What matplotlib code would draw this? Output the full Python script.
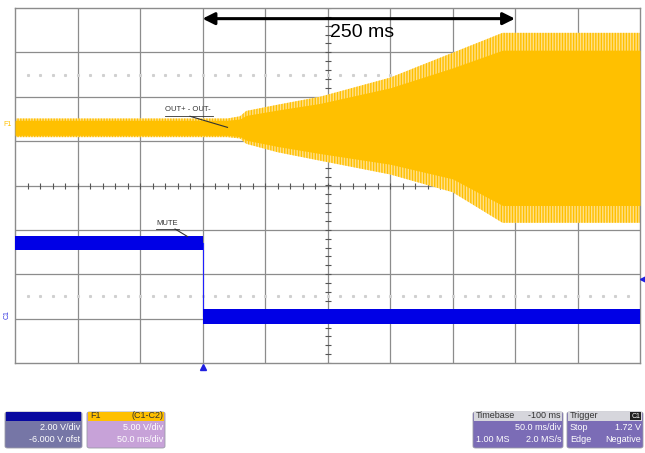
import numpy as np
import matplotlib
matplotlib.use("Agg")
from matplotlib import pyplot as plt
from matplotlib.patches import Rectangle, FancyBboxPatch

plt.rcParams["font.family"] = ["Liberation Sans", "DejaVu Sans"]
plt.rcParams["hatch.linewidth"] = 1.0

# time in ms (50 ms/div, trigger at 0), amplitude in divisions
out_t = [-150, 20, 30, 35, 60, 94, 150, 200, 240, 350]
out_top = [0.21, 0.21, 0.26, 0.38, 0.52, 0.70, 1.13, 1.69, 2.14, 2.14]
out_bot = [0.21, 0.21, 0.24, 0.36, 0.55, 0.74, 1.05, 1.45, 2.14, 2.14]
in_top = [0.17, 0.17, 0.20, 0.28, 0.40, 0.55, 0.90, 1.35, 1.75, 1.75]
in_bot = [0.17, 0.17, 0.20, 0.28, 0.42, 0.58, 0.82, 1.15, 1.75, 1.75]
out_center = 1.3

mute_t = [-150, 0, 0, 350]
mute_lvl = [-1.3, -1.3, -2.95, -2.95]
mute_half = 0.16
trig_level = -2.1

fig = plt.figure(figsize=(6.45, 4.53), dpi=100)
W, H = 645, 453


def fx(x):
    return x / W


def fy(y):
    return 1 - y / H


ax = fig.add_axes([fx(15), fy(363), fx(640) - fx(15), fy(8) - fy(363)])
ax.set_xlim(-150, 350)
ax.set_ylim(-4, 4)
ax.set_xticks([])
ax.set_yticks([])
for s in ax.spines.values():
    s.set_color("#8c8c8c")
    s.set_linewidth(1.0)

gc = "#8c8c8c"
for t in np.arange(-100, 350, 50):
    ax.axvline(t, color=gc, lw=0.9, zorder=0)
for v in range(-3, 4):
    ax.axhline(v, color=gc, lw=0.9, zorder=0)
# minor ticks on the center cross
ax.plot(np.arange(-150, 351, 10), np.zeros(51), ls="none", marker="|",
        ms=4, color="#555555", mew=0.8, zorder=1)
ax.plot(np.full(41, 100), np.arange(-4, 4.01, 0.2), ls="none", marker="_",
        ms=4, color="#555555", mew=0.8, zorder=1)
# dotted reference rows
for v in (2.5, -2.5):
    ax.plot(np.arange(-140, 350, 10), np.full(49, v), ls="none", marker="s",
            ms=1.2, color="#d0d0d0", zorder=0)

# amplified output
ot = np.array(out_t)
ax.fill_between(ot, out_center - np.array(out_bot), out_center + np.array(out_top),
                facecolor="#ffe08a", edgecolor="#ffc000", hatch="||||||", lw=0, zorder=2)
ax.fill_between(ot, out_center - np.array(in_bot), out_center + np.array(in_top),
                color="#ffc000", lw=0, zorder=3)

# mute signal
ax.plot(mute_t[1:3], mute_lvl[1:3], color="#2020ff", lw=0.8, zorder=3)
ax.fill_between(mute_t[:2], [mute_lvl[0] - mute_half] * 2, [mute_lvl[0] + mute_half] * 2,
                color="#0000e6", lw=0, zorder=3)
ax.fill_between(mute_t[2:], [mute_lvl[2] - mute_half] * 2, [mute_lvl[2] + mute_half] * 2,
                color="#0000e6", lw=0, zorder=3)

# annotations
ax.text(-12, 1.72, "OUT+ - OUT-", fontsize=5.5, ha="center", va="center", color="#333333", zorder=5)
ax.plot([-30, 8], [1.56, 1.56], color="#333333", lw=0.6, zorder=5)
ax.plot([-10, 20], [1.56, 1.31], color="#333333", lw=0.8, zorder=5)
ax.text(-28, -0.86, "MUTE", fontsize=5.5, ha="center", va="center", color="#333333", zorder=5)
ax.plot([-37, -19], [-0.98, -0.98], color="#333333", lw=0.6, zorder=5)
ax.plot([-22, -12], [-0.98, -1.15], color="#333333", lw=0.8, zorder=5)

ax.annotate("", xy=(0, 3.76), xytext=(250, 3.76),
            arrowprops=dict(arrowstyle="<|-|>", color="black", lw=2.2,
                            mutation_scale=18, shrinkA=0, shrinkB=0), zorder=6)
ax.text(102, 3.45, "250 ms", fontsize=14, ha="left", va="center", color="black", zorder=6)

# channel / trigger markers
fig.text(fx(3), fy(124), "F1", fontsize=5, color="#ffc000", ha="left", va="center")
fig.text(fx(4), fy(315), "C1", fontsize=5, color="#3030e0", ha="left", va="center",
         rotation=90)
ax.plot([0], [-4.1], marker="^", ms=5, color="#2020e0", clip_on=False, zorder=6)
ax.plot([352], [trig_level], marker="<", ms=5, color="#2020e0", clip_on=False, zorder=6)


# info boxes along the bottom
def box(x0, x1, head_color, body_color):
    fig.patches.append(FancyBboxPatch((fx(x0), fy(448)), fx(x1 - x0), fy(412) - fy(448),
                                      boxstyle="round,pad=0,rounding_size=0.004",
                                      transform=fig.transFigure, facecolor=body_color,
                                      edgecolor="#9a9aa8", lw=0.6))
    fig.patches.append(Rectangle((fx(x0 + 1), fy(421)), fx(x1 - x0 - 2), fy(412) - fy(421),
                                 transform=fig.transFigure, facecolor=head_color, lw=0))


def txt(x, y, s, ha, color="white"):
    fig.text(fx(x), fy(y), s, fontsize=6.5, ha=ha, va="center", color=color)


box(5, 82, "#0808a0", "#7676a6")
box(87, 165, "#ffc000", "#c7a2d8")
box(473, 563, "#d6d6dc", "#7b6cb6")
box(567, 643, "#d6d6dc", "#7b6cb6")

txt(80, 428, "2.00 V/div", "right")
txt(80, 440, "-6.000 V ofst", "right")
txt(90, 416, "F1", "left", "#333333")
txt(163, 416, "(C1-C2)", "right", "#333333")
txt(163, 428, "5.00 V/div", "right")
txt(163, 440, "50.0 ms/div", "right")
txt(476, 416, "Timebase", "left", "#333333")
txt(561, 416, "-100 ms", "right", "#333333")
txt(561, 428, "50.0 ms/div", "right")
txt(476, 440, "1.00 MS", "left")
txt(561, 440, "2.0 MS/s", "right")
txt(570, 416, "Trigger", "left", "#333333")
fig.text(fx(640), fy(416), "C1", fontsize=5, ha="right", va="center", color="white",
         bbox=dict(boxstyle="square,pad=0.1", fc="#222222", ec="none"))
txt(570, 428, "Stop", "left")
txt(641, 428, "1.72 V", "right")
txt(570, 440, "Edge", "left")
txt(641, 440, "Negative", "right")

fig.savefig("out.png", dpi=100)
